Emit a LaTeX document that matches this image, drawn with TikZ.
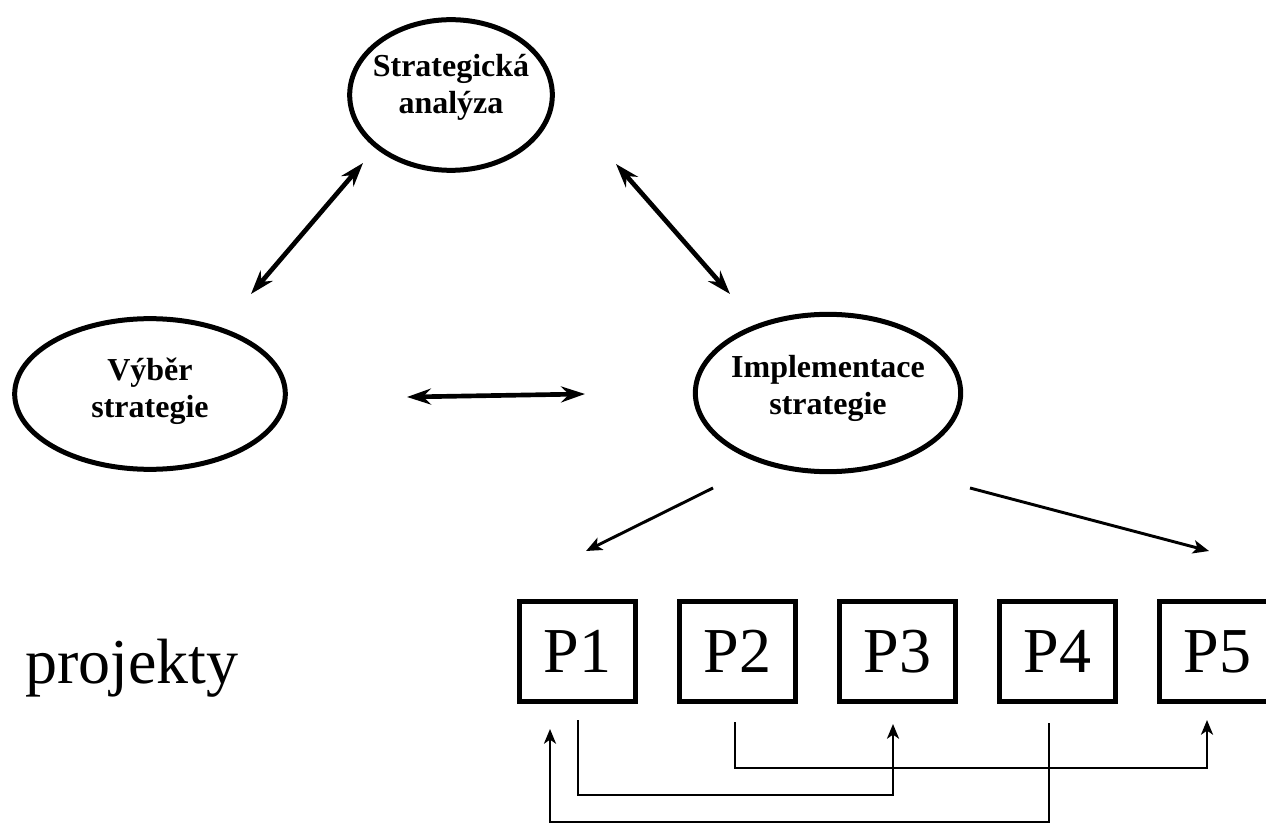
\documentclass[tikz,border=0pt]{standalone}
\usepackage{fontspec}
\setmainfont{Liberation Serif}
\usetikzlibrary{arrows.meta,shapes.geometric}
\begin{document}
\begin{tikzpicture}[x=0.75pt,y=-0.75pt,
 ell/.style={ellipse, draw, line width=3.75pt, inner sep=0pt},
 etext/.style={align=center, inner sep=0pt, font=\fontsize{24}{27.75}\selectfont\bfseries},
 pbox/.style={rectangle, draw, line width=4pt, minimum width=87pt, minimum height=75pt, inner sep=0pt, font=\fontsize{48}{48}\selectfont},
 dbl/.style={line width=3.5pt, {Stealth[length=18pt,width=12pt,inset=6pt]}-{Stealth[length=18pt,width=12pt,inset=6pt]}},
 diag/.style={line width=2.2pt, -{Stealth[length=12pt,width=10pt,inset=3pt]}},
 link/.style={line width=1.8pt, -{Stealth[length=11pt,width=9pt,inset=3pt]}}
]
\path[use as bounding box] (0,0) rectangle (1266,823);
\clip (0,0) rectangle (1266,823);

% ellipses
\node[ell, minimum width=152pt, minimum height=113pt] (sa) at (451,95) {};
\node[etext] (sat) at (451,87) {Strategická\\analýza};
\node[ell, minimum width=203pt, minimum height=113pt] (vs) at (150,394) {};
\node[etext] (vst) at (150,391) {Výběr\\strategie};
\node[ell, minimum width=199pt, minimum height=118pt] (is) at (828,393) {};
\node[etext] (ist) at (828,388) {Implementace\\strategie};

% boxes
\node[pbox] (p1) at (577.5,651.5) {P1};
\node[pbox] (p2) at (737.5,651.5) {P2};
\node[pbox] (p3) at (897.5,651.5) {P3};
\node[pbox] (p4) at (1057.5,651.5) {P4};
\node[pbox] (p5) at (1217.5,651.5) {P5};

\node[font=\fontsize{48}{48}\selectfont, anchor=base west, inner sep=0pt] (proj) at (25,683) {projekty};

% connector end points
\coordinate (la) at (251,294);
\coordinate (lb) at (363,163);
\coordinate (ra) at (616,164);
\coordinate (rb) at (730,294);
\coordinate (ha) at (407,397);
\coordinate (hb) at (585,394);
\coordinate (da) at (713,488);
\coordinate (db) at (586,551);
\coordinate (ea) at (970,488);
\coordinate (eb) at (1209,551);

\draw[dbl] (la) -- (lb);
\draw[dbl] (ra) -- (rb);
\draw[dbl] (ha) -- (hb);
\draw[diag] (da) -- (db);
\draw[diag] (ea) -- (eb);

% project links
\coordinate (p4o) at (1049,723);
\coordinate (p1i) at (550,729);
\coordinate (p1o) at (578,720);
\coordinate (p3i) at (893,724);
\coordinate (p2o) at (735,722);
\coordinate (p5i) at (1207,720);

\draw[link] (p4o) -- (1049,822) -- (550,822) -- (p1i);
\draw[link] (p1o) -- (578,795) -- (893,795) -- (p3i);
\draw[link] (p2o) -- (735,768) -- (1207,768) -- (p5i);
\end{tikzpicture}
\end{document}
